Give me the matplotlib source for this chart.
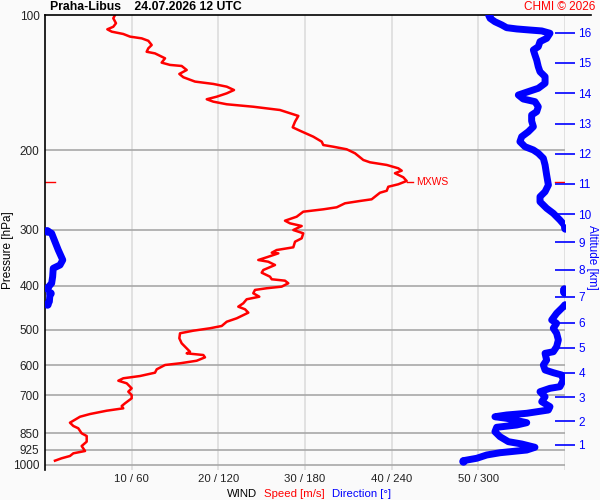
import numpy as np
import matplotlib
matplotlib.use("Agg")
import matplotlib.pyplot as plt
from matplotlib.ticker import NullLocator, FixedLocator, FixedFormatter

plt.rcParams['font.family'] = ['Liberation Sans', 'DejaVu Sans']

# wind speed profile [m/s] vs pressure [hPa]
speed_p = [100.0, 101.7, 104.3, 106.2, 107.6, 108.9, 110.2, 111.7, 112.7, 114.1,
           116.6, 118.6, 120.7, 121.7, 124.8, 127.6, 129.1, 129.8, 132.5, 135.2,
           137.5, 140.6, 142.3, 144.3, 146.8, 149.3, 151.9, 153.9, 155.8, 157.9,
           159.9, 162.6, 167.6, 172.6, 177.7, 180.8, 186.4, 191.2, 194.5, 196.2,
           198.8, 202.9, 210.0, 212.5, 215.4, 219.1, 221.8, 224.7, 229.4, 233.8,
           237.8, 240.8, 245.8, 248.3, 256.8, 259.0, 262.1, 267.5, 270.3, 273.6,
           280.7, 286.5, 290.4, 294.4, 300.5, 305.6, 313.5, 319.0, 328.3, 332.9,
           337.5, 338.6, 345.5, 350.3, 353.4, 359.4, 368.7, 373.8, 381.5, 386.6,
           389.4, 394.6, 401.5, 404.8, 408.3, 415.3, 422.7, 428.3, 437.2, 444.8,
           450.8, 458.7, 472.1, 480.4, 491.0, 496.8, 503.0, 509.7, 522.9, 536.5,
           550.6, 560.2, 564.8, 569.7, 576.5, 586.6, 594.3, 599.5, 612.9, 623.6,
           634.3, 641.7, 649.7, 658.4, 675.5, 687.3, 699.0, 711.0, 729.4, 739.6,
           748.3, 757.5, 770.5, 781.2, 805.4, 819.1, 828.8, 850.4, 862.2, 887.6,
           907.5, 931.0, 942.0, 955.0, 966.3, 978.2]
speed = [8.08, 7.88, 8.19, 7.88, 7.19, 7.70, 9.03, 9.81, 11.16, 11.92,
         12.31, 11.92, 11.73, 12.69, 13.85, 13.46, 14.42, 15.77, 16.35, 15.50,
         15.96, 17.31, 19.42, 20.97, 21.81, 20.97, 19.81, 18.66, 19.42, 20.97,
         24.03, 27.11, 29.23, 28.85, 28.58, 29.42, 30.96, 31.93, 32.11, 33.26,
         34.81, 35.77, 36.73, 37.50, 39.43, 40.76, 41.16, 40.38, 41.34, 41.73,
         40.76, 39.61, 39.43, 38.65, 37.69, 36.34, 34.61, 33.66, 32.11, 29.80,
         29.04, 27.69, 28.27, 29.62, 28.65, 29.80, 29.62, 28.85, 28.65, 26.73,
         26.16, 26.92, 25.58, 24.61, 25.76, 26.54, 25.19, 25.00, 25.96, 26.16,
         27.69, 28.07, 27.31, 25.58, 24.23, 24.03, 24.73, 23.27, 22.88, 22.30,
         23.08, 23.46, 22.12, 20.97, 20.39, 19.04, 17.11, 15.58, 15.50, 15.77,
         16.35, 16.73, 16.35, 18.27, 18.46, 17.50, 15.58, 13.85, 12.89, 12.69,
         10.96, 9.03, 8.46, 9.43, 10.00, 9.61, 10.00, 10.00, 9.23, 8.85,
         9.03, 7.12, 5.19, 4.04, 2.88, 3.27, 3.84, 4.23, 4.81, 4.81,
         4.23, 4.62, 3.27, 2.88, 1.92, 1.15]

# wind direction profile [deg] vs pressure [hPa]
dir_p = [100.0, 101.7, 103.5, 105.2, 106.7, 107.4, 108.0, 108.5, 109.8, 112.7,
         114.6, 117.6, 119.6, 122.7, 125.9, 130.3, 133.7, 137.1, 141.8, 145.5,
         148.0, 150.6, 153.7, 155.8, 159.9, 164.0, 166.8, 172.0, 177.1, 181.7,
         186.4, 191.2, 196.2, 199.5, 202.9, 208.2, 215.4, 226.8, 238.7, 247.0,
         253.4, 260.0, 268.9, 275.9, 285.5, 292.9, 297.0, 301.6, 305.6, 319.0,
         332.9, 350.3, 359.4, 365.5, 381.5, 394.6, 404.8, 407.0, 412.0, 415.3,
         433.6, 438.7, 441.0, 448.5, 460.1, 476.2, 484.4, 496.8, 509.7, 527.5,
         546.0, 560.2, 564.8, 584.6, 599.5, 615.1, 623.6, 631.0, 647.3, 669.9,
         675.5, 687.3, 705.1, 723.4, 742.0, 754.8, 767.6, 774.3, 781.2, 787.6,
         805.4, 815.0, 824.6, 843.4, 865.2, 887.6, 898.1, 913.5, 926.3, 939.2,
         950.2, 966.3, 978.2]
direction = [307.6, 308.1, 311.5, 316.2, 319.6, 326.6, 335.8, 343.9, 349.6, 347.3,
             342.7, 341.5, 338.1, 339.2, 340.4, 341.5, 342.7, 346.2, 346.2, 341.5,
             334.6, 327.7, 331.1, 339.2, 341.5, 340.4, 336.9, 336.9, 338.1, 334.6,
             330.0, 328.8, 332.3, 338.1, 341.5, 345.0, 346.2, 347.3, 348.5, 346.2,
             342.7, 342.7, 347.3, 351.9, 356.5, 359.5, 359.9, 1.2, 4.6, 6.9,
             9.2, 12.3, 10.4, 5.7, 5.3, 4.6, 1.6, 359.2, 359.0, 3.5,
             3.0, 1.6, 359.9, 357.7, 354.2, 350.8, 354.2, 351.9, 354.2, 355.4,
             354.2, 351.9, 346.2, 347.3, 345.0, 346.2, 351.9, 357.7, 358.8, 356.5,
             349.6, 342.7, 346.2, 343.9, 349.6, 348.5, 333.5, 319.6, 311.5, 319.6,
             333.5, 326.6, 312.7, 311.5, 315.0, 320.8, 330.0, 339.2, 333.5, 315.0,
             305.8, 298.9, 289.6]

p_ticks = [100, 200, 300, 400, 500, 600, 700, 850, 925, 1000]
speed_ticks = [10, 20, 30, 40, 50]
speed_labels = ['10 / 60', '20 / 120', '30 / 180', '40 / 240', '50 / 300']
alt_km = [1, 2, 3, 4, 5, 6, 7, 8, 9, 10, 11, 12, 13, 14, 15, 16]
alt_p = [902.6, 798.7, 706.3, 624.5, 549.5, 483.5, 423.2, 368.6, 319.6, 276.9,
         237.1, 203.6, 174.4, 149.1, 127.6, 109.6]
mxws_p = 235.0
mxws_speed = 41.7

RED = '#ff0000'
BLUE = '#0000ff'
BG = '#fafafa'

fig = plt.figure(figsize=(6, 5), dpi=100, facecolor=BG)
ax = fig.add_axes([45 / 600, 30 / 500, 520 / 600, 455 / 500], facecolor=BG)
ax.set_yscale('log')
ax.set_ylim(1026, 100)
ax.set_xlim(0, 60)

# direction gets its own x scale (0-360), y shared with ax
ax2 = ax.twiny()
ax2.set_xlim(0, 360)
ax2.xaxis.set_visible(False)
for side in ax2.spines:
    ax2.spines[side].set_visible(False)

# altitude axis on the right
ax3 = ax.twinx()
ax3.set_yscale('log')
ax3.set_ylim(1026, 100)
ax3.yaxis.set_major_locator(FixedLocator(alt_p))
ax3.yaxis.set_major_formatter(FixedFormatter([str(a) for a in alt_km]))
ax3.yaxis.set_minor_locator(NullLocator())
ax3.tick_params(axis='y', direction='inout', length=15, width=1.2, color=BLUE,
                labelcolor=BLUE, labelsize=8.5, pad=2)
for side in ax3.spines:
    ax3.spines[side].set_visible(False)

# pressure ticks
ax.yaxis.set_major_locator(FixedLocator(p_ticks))
ax.yaxis.set_major_formatter(FixedFormatter([str(p) for p in p_ticks]))
ax.yaxis.set_minor_locator(NullLocator())
ax.set_xticks(speed_ticks)
ax.set_xticklabels(speed_labels)
ax.tick_params(axis='y', length=0, pad=4, labelsize=8.5, labelcolor='#222222')
ax.tick_params(axis='x', length=0, pad=3, labelsize=8.2, labelcolor='#222222')
for side in ['right', 'bottom', 'top']:
    ax.spines[side].set_visible(False)
ax.spines['left'].set_linewidth(1.2)

# grid
for p in p_ticks[1:]:
    ax.axhline(p, color='#a8a8a8', lw=1.2, zorder=1)
for s in speed_ticks + [60]:
    ax.axvline(s, color='#dcdcdc', lw=1.2, zorder=0)
ax.axhline(100, xmin=0, xmax=546 / 520, color='black', lw=1.2, clip_on=False, zorder=5)

# speed
ax.plot(speed, speed_p, color=RED, lw=1.8, zorder=4)

# max wind marker
ax.axhline(mxws_p, xmin=0, xmax=0.02, color=RED, lw=1)
ax.axhline(mxws_p, xmin=0.98, xmax=1.0, color=RED, lw=1)
ax.plot([mxws_speed + 0.1, mxws_speed + 0.8], [mxws_p, mxws_p], color=RED, lw=1)
ax.text(mxws_speed + 1.1, mxws_p, 'MXWS', color=RED, fontsize=7.5, va='center', ha='left')

# direction, broken where it wraps over north
d = np.array(direction)
pp = np.array(dir_p)
breaks = np.where(np.abs(np.diff(d)) > 180)[0] + 1
for seg_d, seg_p in zip(np.split(d, breaks), np.split(pp, breaks)):
    ax2.plot(seg_d, seg_p, color=BLUE, lw=5, solid_capstyle='round',
             marker='o', markersize=5, markevery=[0, len(seg_d) - 1], zorder=3)

fig.text(0.013, 0.5, 'Pressure [hPa]', rotation=90, ha='center', va='center', fontsize=8.5)
fig.text(0.987, 0.485, 'Altitude [km]', rotation=270, ha='center', va='center',
         fontsize=8.5, color=BLUE)

fig.text(50 / 600, 0.986, 'Praha-Libus    24.07.2026 12 UTC', fontsize=8.8,
         fontweight='bold', ha='left', va='center')
fig.text(0.993, 0.986, 'CHMI \u00a9 2026', fontsize=8.5, color=RED, ha='right', va='center')

fig.text(227 / 600, 0.012, 'WIND', fontsize=8.2, ha='left', va='center')
fig.text(264 / 600, 0.012, 'Speed [m/s]', fontsize=8.2, color=RED, ha='left', va='center')
fig.text(332 / 600, 0.012, 'Direction [\u00b0]', fontsize=8.2, color=BLUE, ha='left', va='center')

fig.savefig('out.png', dpi=100, facecolor=BG)
